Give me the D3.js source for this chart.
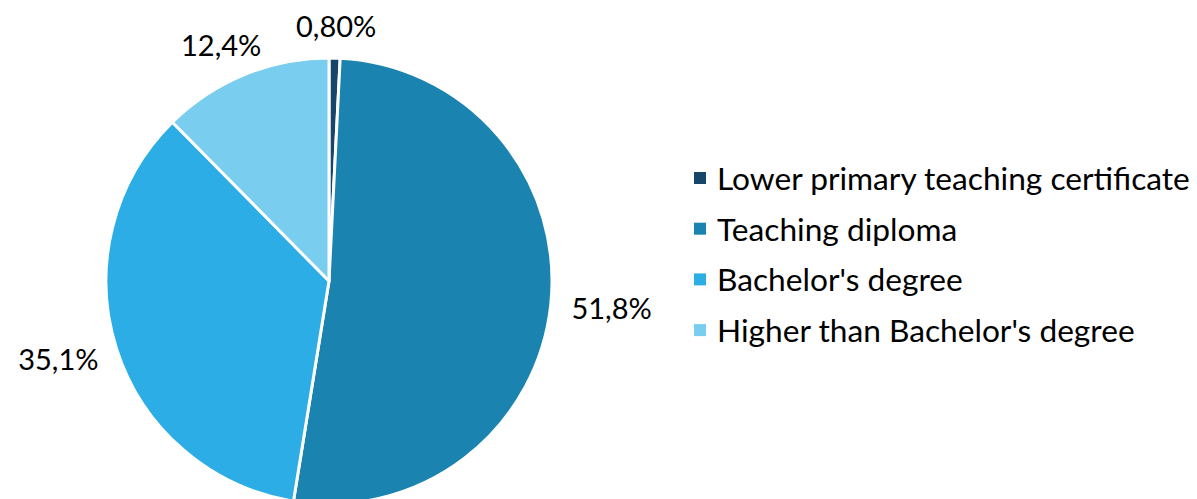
<!DOCTYPE html>
<html>
<head>
<meta charset="utf-8">
<script src="https://cdn.jsdelivr.net/npm/d3@7"></script>
<style>
  html, body { margin: 0; padding: 0; background: #fff; }
  svg { display: block; font-family: "Lato", "Open Sans", sans-serif; }
</style>
</head>
<body>
<svg width="1197" height="499"></svg>
<script>
var categories = ["Lower primary teaching certificate", "Teaching diploma", "Bachelor's degree", "Higher than Bachelor's degree"];
var values = [0.8, 51.8, 35.1, 12.4];
var valueLabels = ["0,80%", "51,8%", "35,1%", "12,4%"];
var colors = ["#17466b", "#1a83b0", "#2cade5", "#79cdef"];

var svg = d3.select("svg"),
    cx = 329, cy = 281, radius = 223;

var data = categories.map(function(c, i) { return {name: c, value: values[i], label: valueLabels[i], color: colors[i]}; });

var pie = d3.pie().sort(null).value(function(d) { return d.value; });
var arc = d3.arc().innerRadius(0).outerRadius(radius);
var arcs = pie(data);

var g = svg.append("g").attr("transform", "translate(" + cx + "," + cy + ")");

g.selectAll("path")
  .data(arcs)
  .enter().append("path")
  .attr("d", arc)
  .attr("fill", function(d) { return d.data.color; })
  .attr("stroke", "#fff")
  .attr("stroke-width", 3)
  .attr("stroke-linejoin", "round");

// outside labels, pushed out by half the text box
var gap = 21, fs = 29;
g.selectAll(".lbl")
  .data(arcs)
  .enter().append("text")
  .attr("class", "lbl")
  .attr("font-size", fs)
  .attr("fill", "#000")
  .attr("text-anchor", "middle")
  .attr("dominant-baseline", "central")
  .text(function(d) { return d.data.label; })
  .each(function(d) {
    var a = (d.startAngle + d.endAngle) / 2,
        w = this.getComputedTextLength(), h = fs * 0.8,
        s = Math.sin(a), c = -Math.cos(a),
        x = (radius + gap) * s + w / 2 * s,
        y = (radius + gap) * c + h / 2 * c;
    d3.select(this).attr("x", x).attr("y", y);
  });

// legend
var legend = svg.append("g").attr("transform", "translate(694,178)");
var rows = legend.selectAll("g")
  .data(data)
  .enter().append("g")
  .attr("transform", function(d, i) { return "translate(0," + (i * 50.7) + ")"; });

rows.append("rect")
  .attr("x", 0).attr("y", -6)
  .attr("width", 12).attr("height", 12)
  .attr("fill", function(d) { return d.color; });

var lt = rows.append("text")
  .attr("x", 23)
  .attr("dominant-baseline", "central")
  .attr("font-size", 26)
  .attr("fill", "#000")
  .text(function(d) { return d.name; });

// fit the longest entry to the width seen in the original
var longest = d3.max(lt.nodes(), function(n) { return n.getComputedTextLength(); });
var lfs = 26 * 473 / longest;
lt.attr("font-size", lfs);
</script>
</body>
</html>
